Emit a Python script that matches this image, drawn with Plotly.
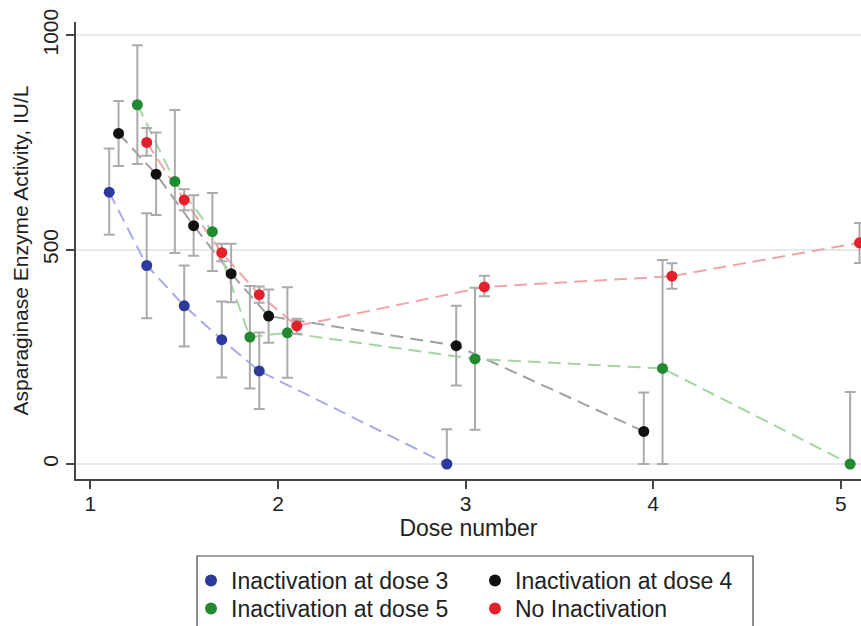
import plotly.graph_objects as go

# ---- data ----
dose3_x = [1.1, 1.3, 1.5, 1.7, 1.9, 2.9]
dose3_y = [634, 463, 369, 290, 217, 0]
dose3_hi = [736, 585, 463, 379, 307, 81]
dose3_lo = [535, 340, 274, 202, 128, 0]

dose4_x = [1.15, 1.35, 1.55, 1.75, 1.95, 2.95, 3.95]
dose4_y = [771, 676, 556, 444, 345, 276, 76]
dose4_hi = [847, 773, 627, 514, 407, 369, 167]
dose4_lo = [695, 581, 486, 377, 283, 183, 0]

dose5_x = [1.25, 1.45, 1.65, 1.85, 2.05, 3.05, 4.05, 5.05]
dose5_y = [838, 659, 542, 296, 306, 245, 223, 0]
dose5_hi = [977, 826, 632, 415, 412, 411, 476, 168]
dose5_lo = [700, 492, 450, 176, 201, 80, 0, 0]

noinact_x = [1.3, 1.5, 1.7, 1.9, 2.1, 3.1, 4.1, 5.1]
noinact_y = [750, 616, 493, 395, 322, 413, 438, 516]
noinact_hi = [784, 641, 514, 414, 339, 439, 468, 562]
noinact_lo = [719, 592, 473, 376, 304, 391, 409, 469]

x_ticks = [1, 2, 3, 4, 5]
y_ticks = [0, 500, 1000]

series = [
    ("Inactivation at dose 3", dose3_x, dose3_y, dose3_hi, dose3_lo, "#2b3a9c", "#aaaaea", "legend"),
    ("Inactivation at dose 4", dose4_x, dose4_y, dose4_hi, dose4_lo, "#111111", "#a0a0a0", "legend"),
    ("Inactivation at dose 5", dose5_x, dose5_y, dose5_hi, dose5_lo, "#1f8a2f", "#a3d6a3", "legend2"),
    ("No Inactivation", noinact_x, noinact_y, noinact_hi, noinact_lo, "#e3202b", "#f0a6a6", "legend2"),
]

FONT = "Liberation Sans, Arial, Helvetica, sans-serif"
TXT = "#222222"
L, T, B = 76, 22, 147
PH = 626 - T - B
PW = 861 - L

fig = go.Figure()

for name, x, y, hi, lo, mcol, lcol, lg in series:
    fig.add_trace(go.Scatter(
        x=x, y=y, mode="lines", showlegend=False, hoverinfo="skip",
        line=dict(color=lcol, width=2, dash="13px,7px"),
    ))

for name, x, y, hi, lo, mcol, lcol, lg in series:
    fig.add_trace(go.Scatter(
        x=x, y=y, mode="markers", name=name, legend=lg,
        marker=dict(color=mcol, size=11),
        error_y=dict(type="data", symmetric=False,
                     array=[h - v for h, v in zip(hi, y)],
                     arrayminus=[v - l for v, l in zip(y, lo)],
                     color="#ababab", thickness=2, width=5.5),
    ))

# legend frame
fig.add_shape(type="rect", xref="paper", yref="paper",
              x0=(197 - L) / PW, x1=(753 - L) / PW,
              y0=-0.40, y1=(626 - B - 556) / PH,
              line=dict(color="#444444", width=1.2), fillcolor="rgba(0,0,0,0)")

legend_common = dict(orientation="h", xanchor="left", yanchor="top",
                     entrywidth=239, entrywidthmode="pixels",
                     font=dict(family=FONT, size=23, color=TXT),
                     bgcolor="rgba(0,0,0,0)", borderwidth=0,
                     itemsizing="constant")

fig.update_layout(
    width=861, height=626,
    margin=dict(l=L, r=0, t=T, b=B, autoexpand=False),
    paper_bgcolor="white", plot_bgcolor="white",
    font=dict(family=FONT, size=21, color=TXT),
    showlegend=True,
    legend=dict(x=(191 - L) / PW, y=(626 - B - 559) / PH, **legend_common),
    legend2=dict(x=(191 - L) / PW, y=(626 - B - 587) / PH, **legend_common),
    xaxis=dict(range=[0.923, 5.108], tickmode="array", tickvals=x_ticks,
               automargin=False,
               showline=True, linecolor="#444444", linewidth=1.5,
               ticks="outside", ticklen=8, tickwidth=1.5, tickcolor="#444444",
               showgrid=False, zeroline=False,
               tickfont=dict(size=21), ticklabelstandoff=-3,
               title=dict(text="Dose number", font=dict(size=23), standoff=2)),
    yaxis=dict(range=[-35, 1031], tickmode="array", tickvals=y_ticks,
               automargin=False,
               tickangle=-90,
               showline=True, linecolor="#444444", linewidth=1.5,
               ticks="outside", ticklen=8, tickwidth=1.5, tickcolor="#444444",
               showgrid=True, gridcolor="#e4e9f0", gridwidth=1.5, zeroline=False,
               tickfont=dict(size=21),
               title=dict(text="Asparaginase Enzyme Activity, IU/L", font=dict(size=21), standoff=4)),
)

fig.write_html("out.html", config={"displayModeBar": False},
               post_script="document.body.style.margin='0';")
